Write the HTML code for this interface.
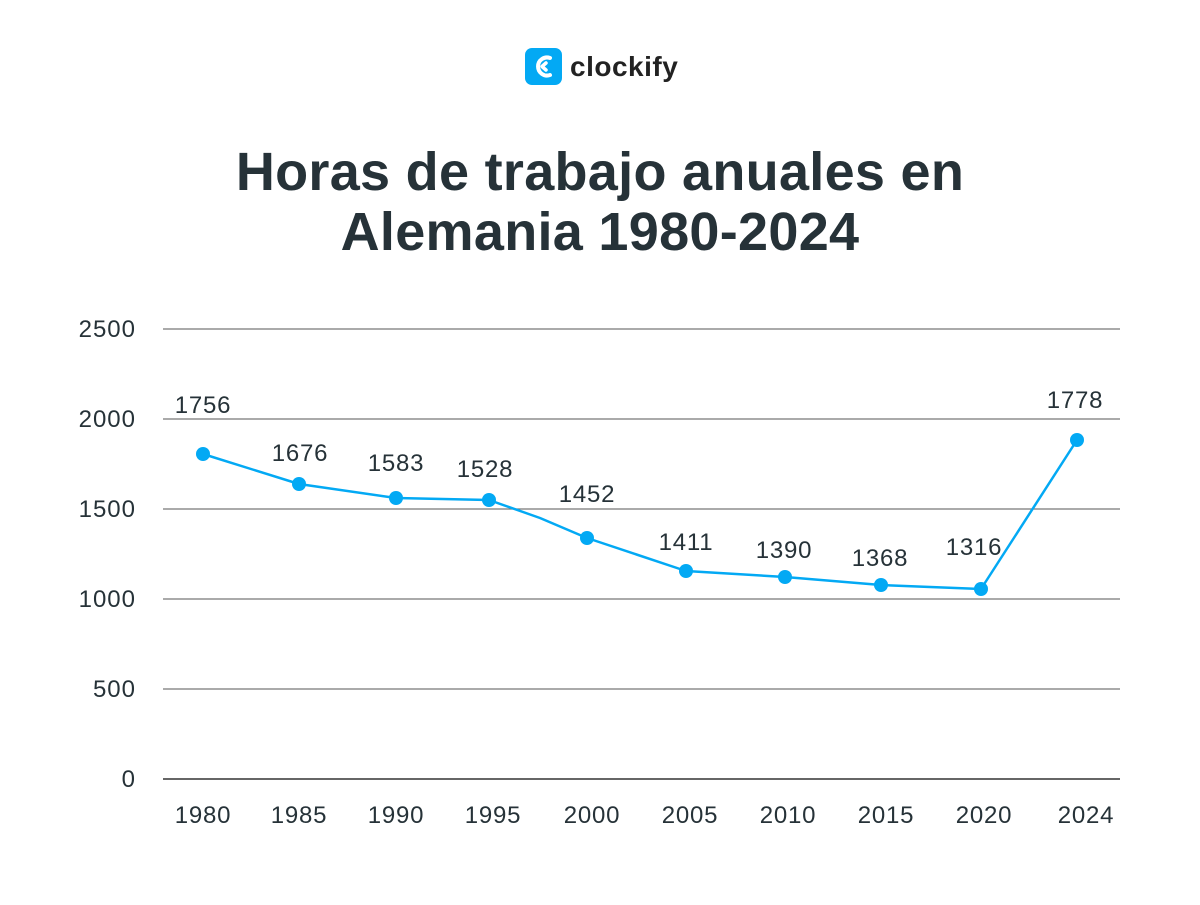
<!DOCTYPE html>
<html><head><meta charset="utf-8"><style>
body{margin:0;background:#fff;width:1200px;height:900px;overflow:hidden;font-family:"Liberation Sans",sans-serif}
</style></head><body>
<svg width="1200" height="900" xmlns="http://www.w3.org/2000/svg" font-family="Liberation Sans, sans-serif">
<rect width="1200" height="900" fill="#fff"/>
<rect x="525" y="48" width="37" height="37" rx="7" fill="#03a9f4"/>
<path d="M550 58 A9 9 0 1 0 550 75" stroke="#fff" stroke-width="4" fill="none" stroke-linecap="round"/>
<path d="M546 63 L542 66.5 L546 70" stroke="#fff" stroke-width="3.5" fill="none" stroke-linecap="round" stroke-linejoin="round"/>
<text x="570" y="76" font-size="28" font-weight="bold" fill="#222" letter-spacing="0.5">clockify</text>
<text x="600" y="190" font-size="54" font-weight="bold" fill="#263238" text-anchor="middle" letter-spacing="0.3">Horas de trabajo anuales en</text>
<text x="600" y="250" font-size="54" font-weight="bold" fill="#263238" text-anchor="middle" letter-spacing="0.3">Alemania 1980-2024</text>
<g stroke="#777" stroke-width="1.3">
<line x1="163" y1="329" x2="1120" y2="329"/><line x1="163" y1="419" x2="1120" y2="419"/>
<line x1="163" y1="509" x2="1120" y2="509"/><line x1="163" y1="599" x2="1120" y2="599"/>
<line x1="163" y1="689" x2="1120" y2="689"/>
</g>
<line x1="163" y1="779" x2="1120" y2="779" stroke="#333" stroke-width="1.5"/>
<g font-size="24" fill="#263238" text-anchor="end" letter-spacing="1">
<text x="136" y="337">2500</text><text x="136" y="427">2000</text><text x="136" y="517">1500</text>
<text x="136" y="607">1000</text><text x="136" y="697">500</text><text x="136" y="787">0</text>
</g>
<g font-size="24" fill="#263238" text-anchor="middle" letter-spacing="0.8">
<text x="203" y="823">1980</text><text x="299" y="823">1985</text><text x="396" y="823">1990</text>
<text x="493" y="823">1995</text><text x="592" y="823">2000</text><text x="690" y="823">2005</text>
<text x="788" y="823">2010</text><text x="886" y="823">2015</text><text x="984" y="823">2020</text>
<text x="1086" y="823">2024</text>
</g>
<polyline points="203,454 299,484 396,498 489,500 540,518 587,538 686,571 785,577 881,585 981,589 1077,440" fill="none" stroke="#03a9f4" stroke-width="2.5" stroke-linejoin="round"/>
<g fill="#03a9f4">
<circle cx="203" cy="454" r="7"/><circle cx="299" cy="484" r="7"/><circle cx="396" cy="498" r="7"/>
<circle cx="489" cy="500" r="7"/><circle cx="587" cy="538" r="7"/><circle cx="686" cy="571" r="7"/>
<circle cx="785" cy="577" r="7"/><circle cx="881" cy="585" r="7"/><circle cx="981" cy="589" r="7"/>
<circle cx="1077" cy="440" r="7"/>
</g>
<g font-size="24" fill="#263238" text-anchor="middle" letter-spacing="0.8">
<text x="203" y="413">1756</text><text x="300" y="461">1676</text><text x="396" y="471">1583</text>
<text x="485" y="477">1528</text><text x="587" y="502">1452</text><text x="686" y="550">1411</text>
<text x="784" y="558">1390</text><text x="880" y="566">1368</text><text x="974" y="555">1316</text>
<text x="1075" y="408">1778</text>
</g>
</svg>
</body></html>
